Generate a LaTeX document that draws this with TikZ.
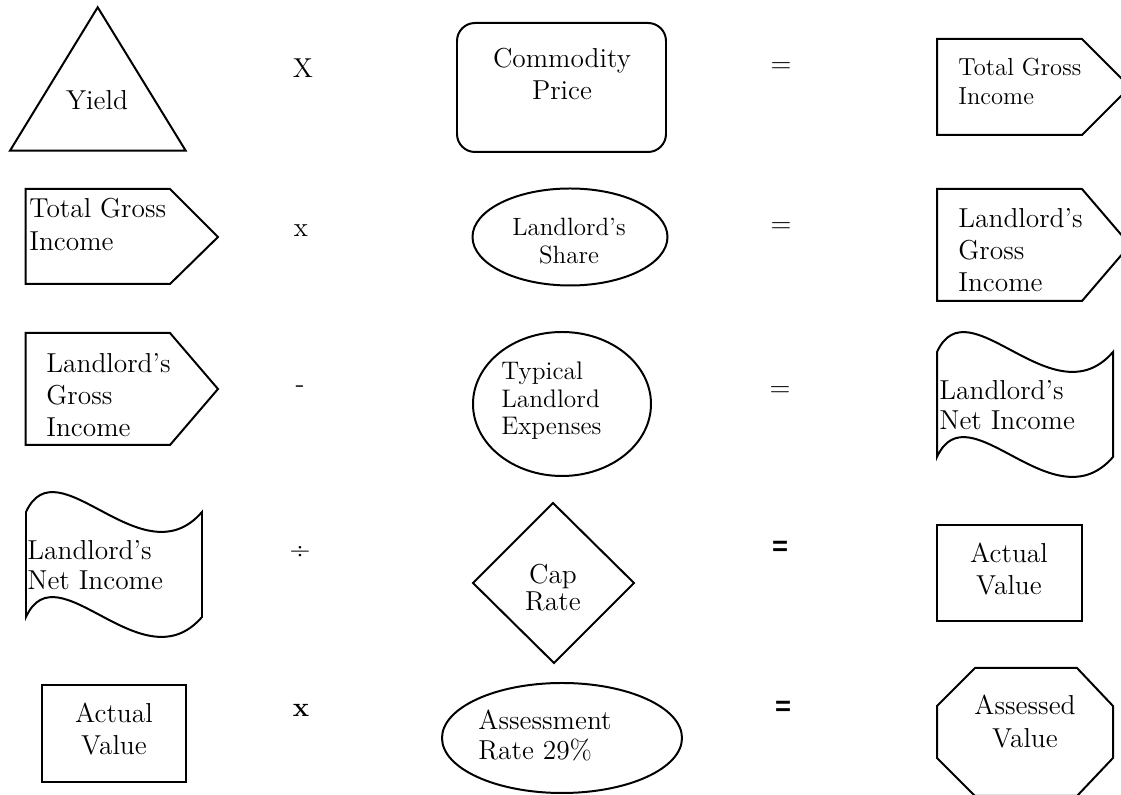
\documentclass[tikz,border=0pt]{standalone}
\usepackage{fontspec}
\newfontfamily\opsans{Liberation Sans}
\usetikzlibrary{calc}
\def\tapeshape[#1](#2,#3)(#4:#5){\draw[#1] (#2,#3) .. controls ({#2+0.18*#4},{#3-69}) and ({#2+0.66*#4},{#3+69}) .. ({#2+#4},#3) -- ({#2+#4},{#3+#5}) .. controls ({#2+0.66*#4},{#3+#5+69}) and ({#2+0.18*#4},{#3+#5-69}) .. (#2,{#3+#5}) -- cycle;}
\tikzset{
  outline/.style={line width=0.35mm},
  txt/.style={inner sep=0pt, font=\fontsize{13.7}{16}\selectfont},
  txtsmall/.style={inner sep=0pt, font=\fontsize{12.5}{14}\selectfont},
  opbold/.style={inner sep=0pt, font=\fontsize{13.7}{16}\selectfont\opsans\bfseries},
}

\begin{document}
\begin{tikzpicture}[x=0.5pt, y=-0.5pt]
			%%%%% START %%%%%
			\useasboundingbox (0,0) rectangle (1121,795);
			\clip (0,0) rectangle (1121,795);
			
			% row 1
			\draw[outline] (97.7,7.3) -- (185.7,150.7) -- (10,150.7) -- cycle;
			\node[txt] (yield) at (97,100) {Yield};
			\node[txt] (times1) at (303,68) {X};
			\draw[outline, rounded corners=9pt] (457,23) rectangle (666,152);
			\node[txt, align=center] (price) at (562,74) {Commodity\\Price};
			\node[txt] (eq1) at (781,68) {=};
			\draw[outline] (937,39) -- (1082,39) -- (1130,87) -- (1082,135) -- (937,135) -- cycle;
			\node[txtsmall, align=left, anchor=west, font=\fontsize{12.3}{14.5}\selectfont] (gross1) at (958,81) {Total Gross\\Income};
			
			% row 2
			\draw[outline] (25.7,189) -- (170,189) -- (218,237) -- (170,284) -- (25.7,284) -- cycle;
			\node[txt, align=left, anchor=west, font=\fontsize{13.7}{16.5}\selectfont] (gross2) at (29,224) {Total Gross\\Income};
			\node[txt] (times2) at (301,231) {x};
			\draw[outline] (570,237) ellipse [x radius=97.5, y radius=48.5];
			\node[txtsmall, align=center] (share) at (569,241) {Landlord's\\Share};
			\node[txt] (eq2) at (781,228) {=};
			\draw[outline] (937,189) -- (1082,189) -- (1130,245) -- (1082,301) -- (937,301) -- cycle;
			\node[txt, align=left, anchor=west] (lgross1) at (958,250) {Landlord's\\Gross\\Income};
			
			% row 3
			\draw[outline] (25.7,333) -- (170,333) -- (218,389) -- (170,445) -- (25.7,445) -- cycle;
			\node[txt, align=left, anchor=west] (lgross2) at (46,395) {Landlord's\\Gross\\Income};
			\node[txt] (minus) at (300,389) {-};
			\draw[outline] (562,404) ellipse [x radius=89, y radius=72];
			\node[txtsmall, align=left, anchor=west, font=\fontsize{12.7}{13.8}\selectfont] (expenses) at (501,401) {Typical\\Landlord\\Expenses};
			\node[txt] (eq3) at (780,392) {=};
			\tapeshape[outline](937,352)(176:105)
			\node[txt, align=left, anchor=west, font=\fontsize{13.7}{15}\selectfont] (net1) at (939,405) {Landlord's\\Net Income};
			
			% row 4
			\tapeshape[outline](26,512)(176:105)
			\node[txt, align=left, anchor=west, font=\fontsize{13.7}{15}\selectfont] (net2) at (27,565) {Landlord's\\Net Income};
			\node[txt] (divide) at (300,552) {÷};
			\draw[outline] (553,503) -- (634,583) -- (554,663) -- (473,583) -- cycle;
			\node[txt, align=center, font=\fontsize{13.7}{13.5}\selectfont] (caprate) at (553,588) {Cap\\Rate};
			\node[opbold] (eq4) at (780,548) {=};
			\draw[outline] (937,525) rectangle (1082,621);
			\node[txt, align=center] (actual1) at (1009,569) {Actual\\Value};
			
			% row 5
			\draw[outline] (42,685) rectangle (186,782);
			\node[txt, align=center] (actual2) at (114,729) {Actual\\Value};
			\node[txt, font=\fontsize{13.7}{16}\selectfont\bfseries] (times3) at (301,710) {x};
			\draw[outline] (562,738) ellipse [x radius=120, y radius=55];
			\node[txt, align=left, anchor=west, font=\fontsize{13.7}{15}\selectfont] (rate) at (478,735) {Assessment\\Rate 29\%};
			\node[opbold] (eq5) at (783,708) {=};
			\draw[outline] (975,668) -- (1077,668) -- (1113,706) -- (1113,758) -- (1077,796) -- (975,796) -- (937,758) -- (937,706) -- cycle;
			\node[txt, align=center, font=\fontsize{13.7}{16.5}\selectfont] (assessed) at (1025,722) {Assessed\\Value};
			
			%%%%% END %%%%%
\end{tikzpicture}
\end{document}
